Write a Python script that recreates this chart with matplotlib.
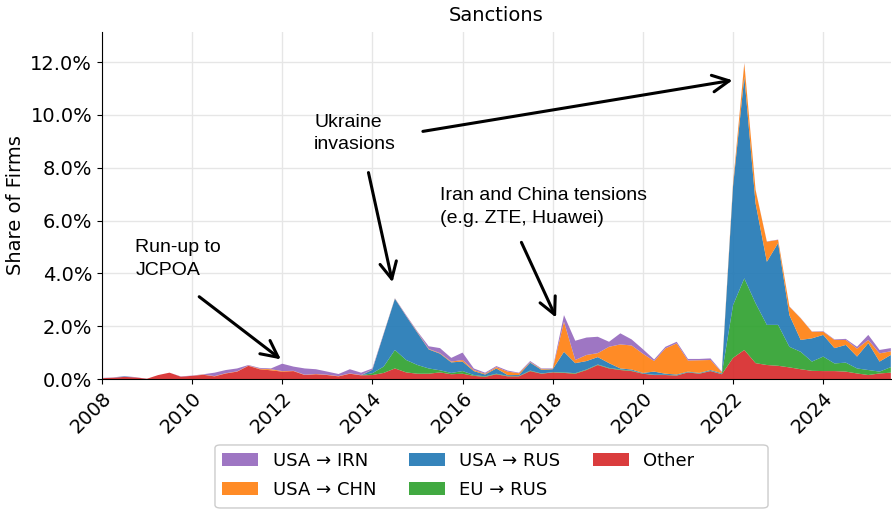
import numpy as np
import matplotlib
matplotlib.use("Agg")
import matplotlib.pyplot as plt
from matplotlib.patches import FancyBboxPatch
from matplotlib.ticker import PercentFormatter

# quarterly, 2008Q1 .. 2025Q3 (share of firms, %)
quarters = np.arange(2008, 2025.51, 0.25)

other = [0.03, 0.05, 0.08, 0.06,  0.01, 0.15, 0.24, 0.09,  0.12, 0.16, 0.10, 0.21,
         0.28, 0.50, 0.37, 0.33,  0.28, 0.30, 0.15, 0.18,  0.15, 0.10, 0.20, 0.14,
         0.15, 0.23, 0.40, 0.25,  0.20, 0.20, 0.25, 0.18,  0.20, 0.12, 0.08, 0.18,
         0.10, 0.10, 0.30, 0.20,  0.25, 0.23, 0.20, 0.34,  0.53, 0.40, 0.34, 0.30,
         0.20, 0.15, 0.15, 0.13,  0.25, 0.20, 0.30, 0.18,  0.80, 1.10, 0.60, 0.53,
         0.50, 0.44, 0.37, 0.31,  0.30, 0.30, 0.28, 0.21,  0.15, 0.21, 0.24]
eu_rus = [0, 0, 0, 0,  0, 0, 0, 0,  0, 0, 0, 0,
          0, 0, 0, 0,  0, 0, 0, 0,  0, 0, 0, 0,
          0.07, 0.24, 0.70, 0.47,  0.33, 0.20, 0.08, 0.05,  0.10, 0.03, 0.02, 0.02,
          0.02, 0.01, 0.02, 0.01,  0.01, 0.02, 0.02, 0.02,  0.02, 0.02, 0.02, 0.02,
          0.01, 0.01, 0.01, 0.01,  0.01, 0.01, 0.01, 0.01,  2.00, 2.71, 2.27, 1.52,
          1.55, 0.78, 0.66, 0.35,  0.55, 0.29, 0.34, 0.19,  0.19, 0.07, 0.21]
usa_rus = [0, 0, 0.02, 0,  0, 0, 0, 0,  0, 0, 0, 0,
           0, 0, 0, 0,  0, 0, 0, 0,  0, 0, 0, 0,
           0.13, 1.23, 1.94, 1.66,  1.22, 0.72, 0.63, 0.40,  0.36, 0.15, 0.07, 0.20,
           0.03, 0.04, 0.30, 0.14,  0.11, 0.78, 0.38, 0.32,  0.28, 0.18, 0.04, 0.04,
           0.02, 0.12, 0.04, 0.03,  0.02, 0.02, 0.03, 0.03,  4.50, 7.64, 3.78, 2.39,
           3.10, 1.20, 0.45, 0.88,  0.82, 0.58, 0.67, 0.45,  1.02, 0.38, 0.46]
usa_chn = [0, 0, 0, 0,  0, 0, 0, 0,  0, 0.01, 0.01, 0.01,
           0.01, 0.01, 0.02, 0.04,  0.02, 0.01, 0.01, 0.01,  0.01, 0.01, 0.01, 0.01,
           0.01, 0.01, 0.01, 0.01,  0.02, 0.02, 0.02, 0.03,  0.06, 0.04, 0.03, 0.05,
           0.13, 0.07, 0.02, 0.03,  0.01, 1.14, 0.12, 0.23,  0.15, 0.62, 0.91, 0.91,
           0.73, 0.40, 0.96, 1.18,  0.42, 0.48, 0.38, 0.04,  0.10, 0.50, 0.51, 0.76,
           0.12, 0.32, 0.82, 0.25,  0.12, 0.31, 0.19, 0.30,  0.12, 0.31, 0.14]
usa_irn = [0.01, 0.01, 0.01, 0.01,  0, 0, 0, 0.01,  0.01, 0.01, 0.13, 0.12,
           0.11, 0.02, 0.03, 0.03,  0.28, 0.16, 0.24, 0.18,  0.12, 0.08, 0.16, 0.09,
           0.04, 0.02, 0.01, 0.03,  0.03, 0.10, 0.19, 0.14,  0.28, 0.06, 0.04, 0.04,
           0.04, 0.02, 0.04, 0.02,  0.02, 0.25, 0.73, 0.66,  0.62, 0.19, 0.42, 0.23,
           0.17, 0.06, 0.06, 0.06,  0.06, 0.05, 0.06, 0.02,  0.02, 0.02, 0.01, 0.01,
           0.01, 0.01, 0.01, 0.01,  0.02, 0.02, 0.04, 0.07,  0.19, 0.13, 0.12]

labels = ["Other", "EU \u2192 RUS", "USA \u2192 RUS", "USA \u2192 CHN", "USA \u2192 IRN"]
colors = ["#d62728", "#2ca02c", "#1f77b4", "#ff7f0e", "#9467bd"]

fig = plt.figure(figsize=(8.92, 5.13), dpi=100)
ax = fig.add_axes([0.1142, 0.2612, 0.8845, 0.6764])

polys = ax.stackplot(quarters, other, eu_rus, usa_rus, usa_chn, usa_irn,
                     labels=labels, colors=colors, alpha=0.9, linewidth=0)

ax.set_xlim(2008, 2025.5)
ax.set_ylim(0, 13.14)
ax.set_xticks(range(2008, 2025, 2))
ax.yaxis.set_major_formatter(PercentFormatter(100, decimals=1))
ax.tick_params(labelsize=14)
plt.setp(ax.get_xticklabels(), rotation=45, ha="right", rotation_mode="anchor")
ax.grid(True, color="#e6e6e6", linewidth=1)
ax.set_axisbelow(True)
for s in ["top", "right"]:
    ax.spines[s].set_visible(False)

ax.set_title("Sanctions", fontsize=14, pad=8)
ax.set_ylabel("Share of Firms", fontsize=14)

# annotations
afont = dict(fontsize=14, family="Liberation Sans", linespacing=1.45)
aprops = dict(arrowstyle="->", color="black", lw=2.2, mutation_scale=30)
ax.text(2008.74, 5.3, "Run-up to\nJCPOA", va="top", **afont)
ax.annotate("", xy=(2012.02, 0.68), xytext=(2010.11, 3.18), arrowprops=aprops)
ax.text(2012.71, 10.05, "Ukraine\ninvasions", va="top", **afont)
ax.annotate("", xy=(2014.46, 3.56), xytext=(2013.9, 7.92), arrowprops=aprops)
ax.annotate("", xy=(2022.05, 11.33), xytext=(2015.06, 9.36), arrowprops=aprops)
ax.text(2015.5, 7.27, "Iran and China tensions\n(e.g. ZTE, Huawei)", va="top", **afont)
ax.annotate("", xy=(2018.1, 2.23), xytext=(2017.28, 5.27), arrowprops=aprops)

# legend below the axes, with a wider frame like the original
handles, labs = ax.get_legend_handles_labels()
fig.legend(handles[::-1], labs[::-1], loc="upper left", bbox_to_anchor=(0.241, 0.133),
           bbox_transform=fig.transFigure, borderaxespad=0, ncol=3, fontsize=13,
           frameon=False, columnspacing=1.8, labelspacing=0.6)
frame = FancyBboxPatch((0.241, 0.0098), 0.620, 0.1228, transform=fig.transFigure,
                       boxstyle="round,pad=0,rounding_size=0.006", facecolor="white",
                       edgecolor="#cccccc", linewidth=1, zorder=-1)
fig.patches.append(frame)

fig.savefig("out.png", dpi=100)
